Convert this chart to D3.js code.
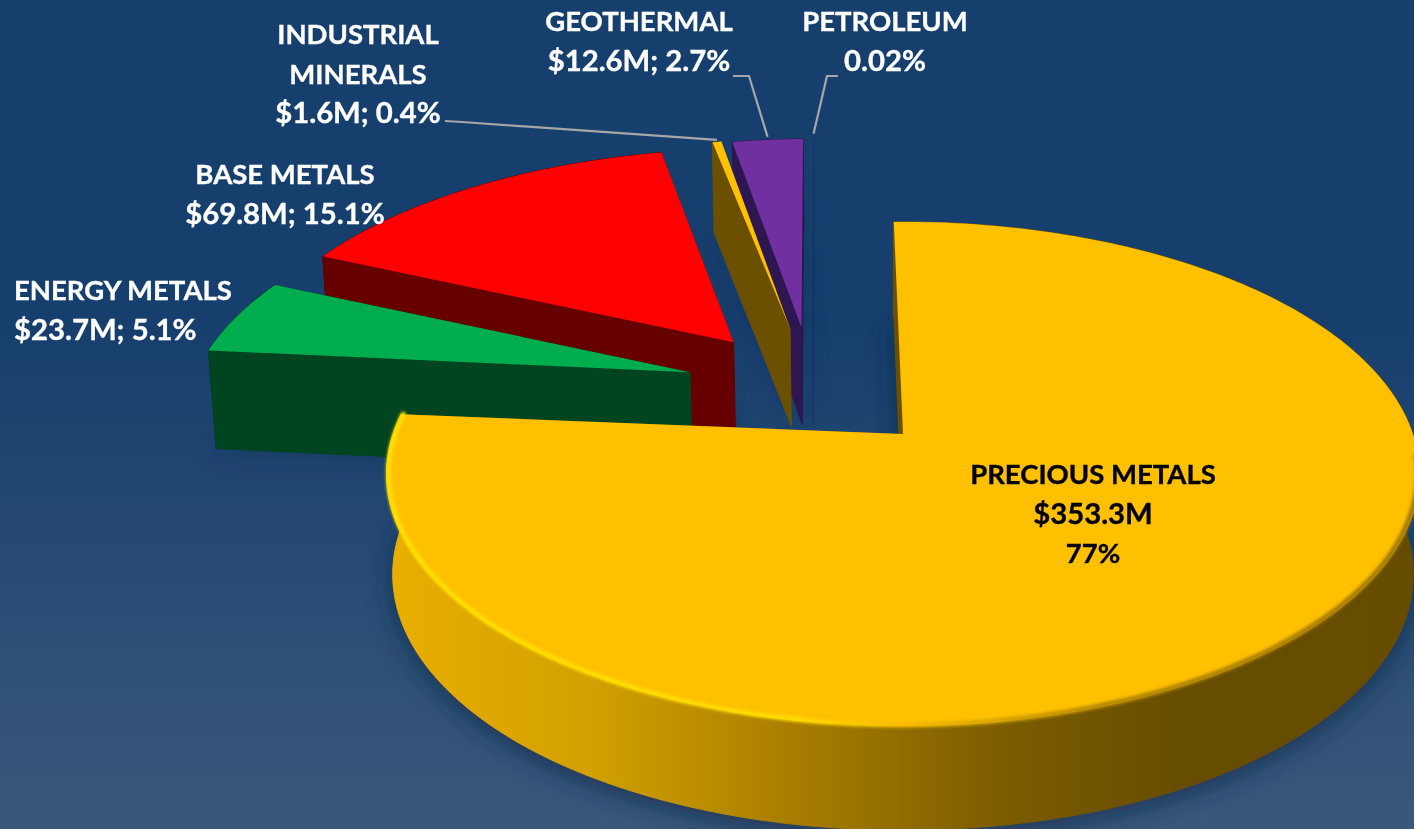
<!DOCTYPE html>
<html>
<head>
    <meta charset="UTF-8">
    <title>Exploration spending by commodity</title>
    <script src="https://d3js.org/d3.v7.min.js"></script>
    <style>
        body {
            margin: 0;
            padding: 0;
            background: #163f6d;
            overflow: hidden;
        }
        text {
            font-family: Lato, "Open Sans", sans-serif;
            font-weight: 700;
            font-size: 27.5px;
            stroke-width: 0.35px;
        }
    </style>
</head>
<body>
    <svg id="chart" width="1414" height="829"></svg>

    <script>
        // drawing order of d3.pie, clockwise from the top
        const categories = ["PRECIOUS METALS", "ENERGY METALS", "BASE METALS", "INDUSTRIAL MINERALS", "GEOTHERMAL", "PETROLEUM"];
        const values = [353.3, 23.7, 69.8, 1.6, 12.6, 0.02];
        const amountLabels = ["$353.3M", "$23.7M", "$69.8M", "$1.6M", "$12.6M", ""];
        const percentLabels = ["77%", "5.1%", "15.1%", "0.4%", "2.7%", "0.02%"];

        const topColors = ["#ffc000", "#00ad4e", "#ff0000", "#ffc000", "#7030a0", "#163f6d"];
        const wallColors = ["#6b5000", "#004420", "#660000", "#6b5000", "#2e1650", "#143a64"];

        const width = 1414, height = 829;

        // perspective of the pie plane, fitted on the big slice
        const view = { px: 903, py: 434, sx: 510, sy: 245.8, k: 0.159, depth: 100 };
        const explode = 0.27;
        const startDeg = -1.2;

        // small per-slice corrections in plane units, from comparing with the picture
        const apexNudge = [[0, 0], [0.012, 0], [0.004, -0.008], [0.002, 0], [0, 0], [0, 0]];
        const rimNudge = [[0, 0], [-0.008, 0.016], [-0.013, 0.026], [-0.0097, 0.025], [-0.0072, 0.0186], [-0.005, 0.018]];

        function project(X, Y, Z) {
            const w = 1 + view.k * Y + 0.012 * Z;
            return [
                view.px + view.sx * X / w,
                view.py - view.sy * Y / w + Z * view.depth * (1 - 0.08 * Y)
            ];
        }

        const toRad = d => d * Math.PI / 180;

        const pie = d3.pie()
            .sort(null)
            .startAngle(toRad(startDeg))
            .endAngle(toRad(startDeg + 360));

        const arcs = pie(values);
        const line = d3.line();

        const svg = d3.select("#chart");
        const defs = svg.append("defs");

        const bg = defs.append("linearGradient")
            .attr("id", "bg").attr("x1", 0).attr("y1", 0).attr("x2", 0).attr("y2", 1);
        bg.append("stop").attr("offset", "0").attr("stop-color", "#163f6d");
        bg.append("stop").attr("offset", "0.4").attr("stop-color", "#173f6d");
        bg.append("stop").attr("offset", "1").attr("stop-color", "#3a587b");

        const wallGrad = defs.append("linearGradient")
            .attr("id", "preciousWall").attr("gradientUnits", "userSpaceOnUse")
            .attr("x1", 388).attr("y1", 0).attr("x2", 1414).attr("y2", 0);
        [[0, "#e9af00"], [0.2, "#d2a000"], [0.38, "#ab8000"], [0.6, "#7b5c00"], [0.78, "#674d00"], [1, "#664c00"]]
            .forEach(s => wallGrad.append("stop").attr("offset", s[0]).attr("stop-color", s[1]));

        const rimGrad = defs.append("linearGradient")
            .attr("id", "rim").attr("gradientUnits", "userSpaceOnUse")
            .attr("x1", 388).attr("y1", 0).attr("x2", 1414).attr("y2", 0);
        [[0, "#ffe000"], [0.4, "#ffdc00"], [0.5, "#f6bb00"], [0.7, "#b48800"], [1, "#a07800"]]
            .forEach(s => rimGrad.append("stop").attr("offset", s[0]).attr("stop-color", s[1]));

        defs.append("filter").attr("id", "soft").attr("x", "-10%").attr("y", "-10%").attr("width", "120%").attr("height", "130%")
            .append("feGaussianBlur").attr("stdDeviation", 12);
        defs.append("filter").attr("id", "softRim").attr("x", "-5%").attr("y", "-5%").attr("width", "110%").attr("height", "110%")
            .append("feGaussianBlur").attr("stdDeviation", 1.6);

        svg.append("rect").attr("width", width).attr("height", height).attr("fill", "url(#bg)");

        // slice geometry in plane coordinates
        function apex(d) {
            let mid = (d.startAngle + d.endAngle) / 2;
            let big = (arcs[0].startAngle + arcs[0].endAngle) / 2;
            // the big slice stays at the origin of the view
            return [
                explode * (Math.sin(mid) - Math.sin(big)) + apexNudge[d.index][0],
                explode * (Math.cos(mid) - Math.cos(big)) + apexNudge[d.index][1]
            ];
        }

        function outer(d, a, z, r = 1) {
            const c = apex(d);
            const n = rimNudge[d.index];
            return project(c[0] + n[0] + r * Math.sin(a), c[1] + n[1] + r * Math.cos(a), z);
        }

        function rimPoints(d, z, a0 = d.startAngle, a1 = d.endAngle, r = 1) {
            const n = Math.max(2, Math.ceil((a1 - a0) / toRad(1)));
            return d3.range(n + 1).map(i => outer(d, a0 + (a1 - a0) * i / n, z, r));
        }

        function topFace(d) {
            const c = apex(d);
            return line([project(c[0], c[1], 0), ...rimPoints(d, 0)]) + "Z";
        }

        function outerWall(d) {
            return line([...rimPoints(d, 0), ...rimPoints(d, 1).reverse()]) + "Z";
        }

        function radialWall(d, a) {
            const c = apex(d);
            return line([project(c[0], c[1], 0), outer(d, a, 0), outer(d, a, 1), project(c[0], c[1], 1)]) + "Z";
        }

        // soft shadow under the pieces
        const shadow = svg.append("g").attr("filter", "url(#soft)");
        arcs.forEach(d => {
            const c = apex(d);
            shadow.append("path")
                .attr("d", line([project(c[0], c[1], 1), ...rimPoints(d, 1)]) + "Z")
                .attr("transform", "translate(0,6)")
                .attr("fill", "#0c2848")
                .attr("opacity", d.index === 0 ? 0.75 : 0.3);
        });

        // back to front, the big slice last
        const paintOrder = [5, 4, 3, 2, 1, 0];
        paintOrder.forEach(i => {
            const d = arcs[i];
            const g = svg.append("g").attr("class", "slice");
            const wallFill = i === 0 ? "url(#preciousWall)" : wallColors[i];

            g.append("path").attr("d", outerWall(d)).attr("fill", wallFill)
                .attr("stroke", wallFill).attr("stroke-width", 1).attr("stroke-linejoin", "round");
            g.append("path").attr("d", radialWall(d, d.endAngle)).attr("fill", wallColors[i]);
            g.append("path").attr("d", radialWall(d, d.startAngle)).attr("fill", wallColors[i])
                .attr("stroke", wallColors[i]).attr("stroke-width", 1).attr("stroke-linejoin", "round");
            g.append("path").attr("d", topFace(d)).attr("fill", topColors[i]);
        });

        // rounded edge of the big slice
        svg.append("path")
            .attr("d", line(rimPoints(arcs[0], 0, toRad(95), arcs[0].endAngle, 0.996)))
            .attr("fill", "none")
            .attr("stroke", "url(#rim)")
            .attr("stroke-width", 5)
            .attr("stroke-linecap", "round")
            .attr("filter", "url(#softRim)");

        // labels: [slice index, anchor, x, first baseline]
        const labelLayout = [
            [0, "middle", 1093, 484],
            [1, "start", 14, 300],
            [2, "middle", 285, 184],
            [3, "middle", 358, 44],
            [4, "middle", 639, 31],
            [5, "middle", 885, 31]
        ];
        const lineGap = 39.5;

        function labelLines(i) {
            if (i === 0) return [categories[0], amountLabels[0], percentLabels[0]];
            const rest = amountLabels[i] ? amountLabels[i] + "; " + percentLabels[i] : percentLabels[i];
            if (i === 3) return ["INDUSTRIAL", "MINERALS", rest];
            return [categories[i], rest];
        }

        labelLayout.forEach(([i, anchor, x, y]) => {
            const color = i === 0 ? "#000000" : "#ffffff";
            svg.append("text")
                .attr("text-anchor", anchor)
                .attr("fill", color)
                .attr("stroke", color)
                .selectAll("tspan")
                .data(labelLines(i))
                .join("tspan")
                .attr("x", x)
                .attr("y", (t, j) => y + j * lineGap)
                // Lato digits run narrow next to the capitals
                .style("font-size", t => /\$|0\.02/.test(t) ? "29.3px" : null)
                .text(t => t);
        });

        // leader lines, ending just above the rim of their slice
        const leaders = [
            [3, [[445, 121], [462, 122]], [0, -2]],
            [4, [[733, 76], [749, 76]], [0, -3]],
            [5, [[838, 76], [827, 76]], [0, -5]]
        ];
        leaders.forEach(([i, head, gap]) => {
            const d = arcs[i];
            const end = outer(d, (d.startAngle + d.endAngle) / 2, 0);
            svg.append("path")
                .attr("d", line([...head, [end[0] + gap[0], end[1] + gap[1]]]))
                .attr("fill", "none")
                .attr("stroke", "#a6a6a6")
                .attr("stroke-width", 2.2);
        });
    </script>
</body>
</html>
